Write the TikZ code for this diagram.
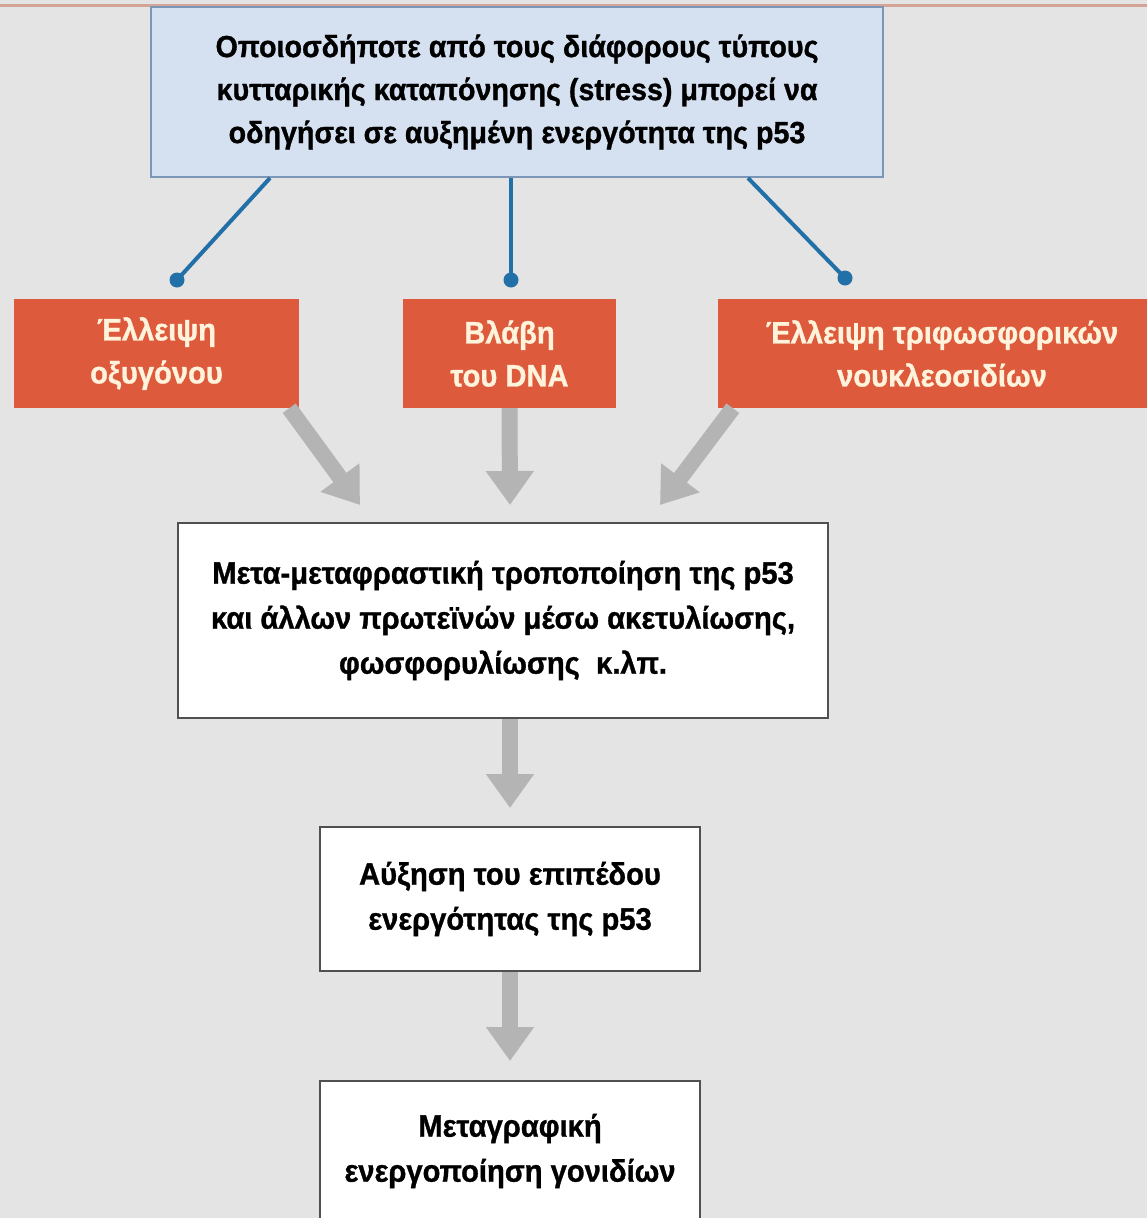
\documentclass[tikz,border=0pt]{standalone}
\usepackage{fontspec}
\setmainfont{Liberation Sans}[FakeStretch=0.94, BoldFeatures={FakeBold=1}]
\usetikzlibrary{arrows.meta}

\definecolor{pagegray}{HTML}{E5E4E4}
\definecolor{topline}{HTML}{D4A597}
\definecolor{stressfill}{HTML}{D5E1F1}
\definecolor{stressline}{HTML}{7B96B6}
\definecolor{causefill}{HTML}{DE5A3C}
\definecolor{causetext}{HTML}{FFF3DC}
\definecolor{linkblue}{HTML}{2270A8}
\definecolor{flowgray}{HTML}{B4B4B4}
\definecolor{boxline}{HTML}{505050}

\begin{document}
\begin{tikzpicture}[x=1pt, y=-1pt,
    stress/.style={draw=stressline, line width=2pt, fill=stressfill, inner sep=0pt,
        align=center, font=\bfseries\fontsize{30.5}{43}\selectfont},
    cause/.style={fill=causefill, text=causetext, inner sep=0pt, minimum height=109pt,
        align=center, font=\bfseries\fontsize{31}{43}\selectfont},
    result/.style={draw=boxline, line width=2pt, fill=white, inner sep=0pt,
        align=center, font=\bfseries\fontsize{31}{45}\selectfont},
    link/.style={draw=linkblue, line width=4pt},
    linkdot/.style={circle, fill=linkblue, minimum size=15pt, inner sep=0pt},
    flow/.style={draw=flowgray, line width=16pt, -{Triangle[width=46pt,length=34pt]}}]

    % page
    \fill[pagegray] (0,0) rectangle (1147,1218);
    \clip (0,0) rectangle (1147,1218);
    \draw[topline, line width=2.5pt] (0,5.5) -- (1147,5.5);

    % stress box
    \node[stress, minimum width=732pt, minimum height=170pt] (stress) at (517,92)
        {Οποιοσδήποτε από τους διάφορους τύπους\\
         κυτταρικής καταπόνησης (stress) μπορεί να\\
         οδηγήσει σε αυξημένη ενεργότητα της p53};

    % the three causes
    \node[cause, minimum width=285pt] (hypoxia) at (156.5,353.5) {Έλλειψη\\οξυγόνου};
    \node[cause, minimum width=213pt] (dnadmg) at (509.5,353.5) {Βλάβη\\του DNA};
    \node[cause, minimum width=448pt] (ntp) at (942,353.5) {Έλλειψη τριφωσφορικών\\νουκλεοσιδίων};

    \node[linkdot] (d1) at (177,280) {};
    \node[linkdot] (d2) at (511,280) {};
    \node[linkdot] (d3) at (845,278) {};
    \draw[link] ([xshift=-247pt]stress.south) -- (d1.center);
    \draw[link] ([xshift=-6pt]stress.south) -- (d2.center);
    \draw[link] ([xshift=231pt]stress.south) -- (d3.center);

    % modification box and the rest of the chain
    \node[result, minimum width=650pt, minimum height=195pt] (modif) at (503,620.5)
        {Μετα-μεταφραστική τροποποίηση της p53\\
         και άλλων πρωτεϊνών μέσω ακετυλίωσης,\\
         φωσφορυλίωσης\ \ κ.λπ.};
    \node[result, minimum width=380pt, minimum height=144pt] (level) at (510,899)
        {Αύξηση του επιπέδου\\ενεργότητας της p53};
    \node[result, minimum width=380pt, minimum height=140pt] (transc) at (510,1151)
        {Μεταγραφική\\ενεργοποίηση γονιδίων};

    \coordinate (t1) at (360,505);
    \coordinate (t2) at (510,505);
    \coordinate (t3) at (660,505);
    \draw[flow] ([xshift=-10pt]hypoxia.south east) -- (t1);
    \draw[flow] (dnadmg.south) -- (t2);
    \draw[flow] ([xshift=15pt]ntp.south west) -- (t3);
    \draw[flow] (level.north |- modif.south) -- ([yshift=18pt]level.north);
    \draw[flow] (level.south) -- ([yshift=19pt]transc.north);
\end{tikzpicture}
\end{document}
